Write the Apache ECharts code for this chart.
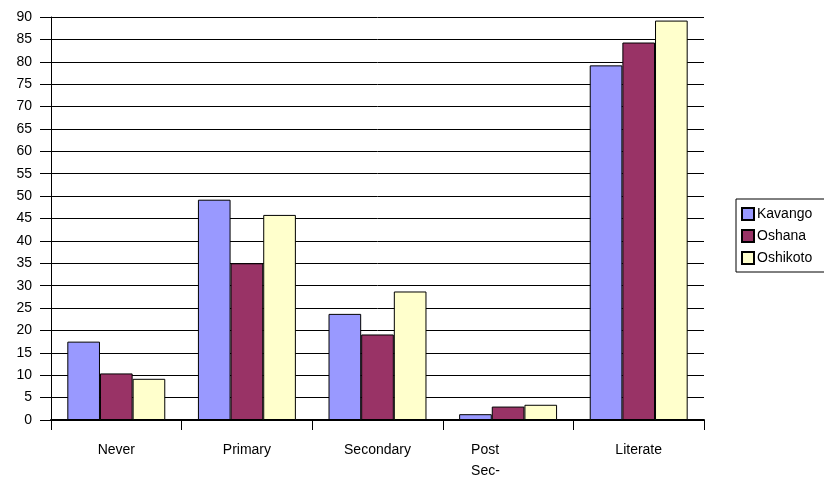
<!DOCTYPE html>
<html>
<head>
<meta charset="utf-8">
<title>Education level by region</title>
<script src="https://cdn.jsdelivr.net/npm/echarts@6/dist/echarts.min.js"></script>
<style>
  html, body { margin: 0; padding: 0; background: #ffffff; }
  #chart { width: 824px; height: 479px; }
</style>
</head>
<body>
<div id="chart"></div>
<script>
// Categories along the x axis
const categories = ['Never', 'Primary', 'Secondary', 'Post Sec-', 'Literate'];

// Percentages per region
const kavango  = [17.5, 49.2, 23.7, 1.3, 79.2];
const oshana   = [10.4, 35.0, 19.1, 3.0, 84.3];
const oshikoto = [9.2, 45.8, 28.7, 3.4, 89.2];

// Y axis scale
const yMin = 0;
const yMax = 90;
const yStep = 5;

const font = 'Liberation Sans, Arial, sans-serif';

const chart = echarts.init(document.getElementById('chart'), null, { renderer: 'canvas' });

function barSeries(name, values, color) {
  return {
    name: name,
    type: 'bar',
    data: values,
    barGap: '0%',
    barCategoryGap: '25%',
    itemStyle: { color: color, borderColor: '#000000', borderWidth: 1 },
    emphasis: { disabled: true }
  };
}

chart.setOption({
  animation: false,
  backgroundColor: '#ffffff',
  grid: { left: 51, right: 120, top: 17, bottom: 59, containLabel: false, outerBoundsMode: 'none' },
  legend: {
    orient: 'vertical',
    left: 736,
    top: 199,
    padding: [8, 14, 7, 5],
    itemGap: 8,
    itemWidth: 12,
    itemHeight: 12,
    icon: 'rect',
    borderColor: '#000000',
    borderWidth: 1,
    textStyle: { fontFamily: font, fontSize: 14, color: '#000000', padding: [0, 0, 0, -2] },
    data: ['Kavango', 'Oshana', 'Oshikoto']
  },
  xAxis: {
    type: 'category',
    data: categories.map(function (c) {
      if (c === 'Post Sec-') {
        return { value: c, textStyle: { align: 'left', padding: [0, 0, 0, -37] } };
      }
      return c;
    }),
    boundaryGap: true,
    axisLine: { lineStyle: { color: '#000000', width: 2 } },
    axisTick: { show: true, length: 10, lineStyle: { color: '#000000', width: 1 } },
    axisLabel: {
      margin: 20,
      fontFamily: font,
      fontSize: 14,
      lineHeight: 21,
      color: '#000000',
      formatter: function (v) { return v.replace(' ', '\n'); }
    },
    splitLine: { show: false }
  },
  yAxis: {
    type: 'value',
    min: yMin,
    max: yMax,
    interval: yStep,
    axisLine: { show: true, lineStyle: { color: '#000000', width: 1 } },
    axisTick: { show: true, length: 11, lineStyle: { color: '#000000', width: 1 } },
    axisLabel: { margin: 19, fontFamily: font, fontSize: 14, color: '#000000' },
    splitLine: { show: true, lineStyle: { color: '#000000', width: 1 } }
  },
  series: [
    barSeries('Kavango', kavango, '#9999FF'),
    barSeries('Oshana', oshana, '#993366'),
    barSeries('Oshikoto', oshikoto, '#FFFFCC')
  ]
});
</script>
</body>
</html>
